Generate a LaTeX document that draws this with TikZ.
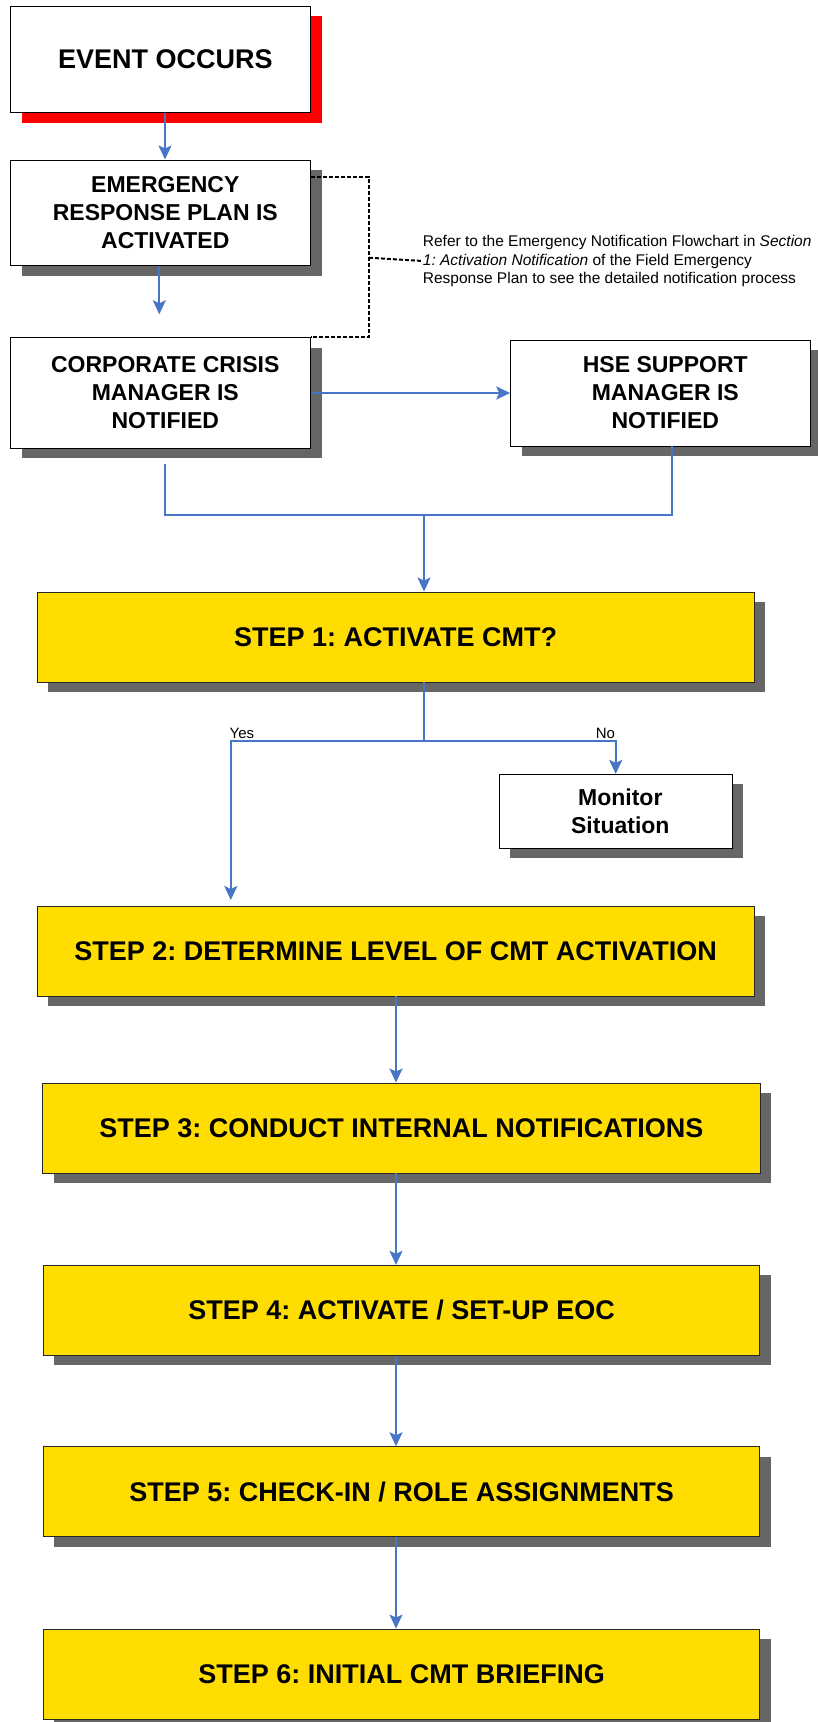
\documentclass[tikz,border=0pt]{standalone}
\usepackage{fontspec}
\setmainfont{Liberation Sans}
\usetikzlibrary{shadows,arrows.meta}
\definecolor{stepyellow}{RGB}{255,221,0}
\definecolor{shadegray}{RGB}{102,102,102}
\definecolor{flowblue}{RGB}{71,118,198}
% small lead-in that sets the text of the white boxes a little right of centre
\newcommand{\lead}{\hspace*{9.2pt}}
\frenchspacing

\begin{document}
\begin{tikzpicture}[x=1pt,y=-1pt,
  wbox/.style={draw=black, line width=0.9pt, fill=white, inner sep=0pt, align=center,
    font=\fontsize{23}{28}\selectfont\bfseries,
    drop shadow={shadow xshift=11pt, shadow yshift=-10pt, fill=#1, opacity=1}},
  wbox/.default=shadegray,
  ybox/.style={draw=black!85, line width=0.9pt, fill=stepyellow, inner sep=0pt,
    minimum width=716.5pt, minimum height=90pt,
    font=\fontsize{27}{32}\selectfont\bfseries,
    drop shadow={shadow xshift=11pt, shadow yshift=-10pt, fill=shadegray, opacity=1}},
  flowline/.style={draw=flowblue, line width=2pt},
  flow/.style={flowline, -{Stealth[length=14pt, width=13pt, inset=3pt]}},
  notedash/.style={draw=black, line width=2pt, dash pattern=on 4pt off 2pt},
  branchlbl/.style={font=\fontsize{15}{18}\selectfont, inner sep=0pt}]

\useasboundingbox (0,0) rectangle (817,1722);

% --- notification boxes ---
\node[wbox=red, minimum width=300pt, minimum height=106.7pt,
      font=\fontsize{27}{32}\selectfont\bfseries] (event) at (160.7,59.3) {\lead EVENT OCCURS};
\node[wbox, minimum width=300pt, minimum height=105.7pt] (erp) at (160.7,212.8)
  {\lead EMERGENCY\\\lead RESPONSE PLAN IS\\\lead ACTIVATED};
\node[wbox, minimum width=300pt, minimum height=110.6pt] (ccm) at (160.7,393)
  {\lead CORPORATE CRISIS\\\lead MANAGER IS\\\lead NOTIFIED};
\node[wbox, minimum width=300pt, minimum height=106pt] (hse) at (660.7,393)
  {\lead HSE SUPPORT\\\lead MANAGER IS\\\lead NOTIFIED};

% --- note on the notification flowchart ---
\node[anchor=west, align=left, inner sep=0pt, font=\fontsize{15.5}{18.7}\selectfont] (note)
  at (422.7,261)
  {Refer to the Emergency Notification Flowchart in \textit{Section}\\
   \textit{1: Activation Notification} of the Field Emergency\\
   Response Plan to see the detailed notification process};

% --- CMT steps ---
\node[ybox] (step1) at (395.7,637) {STEP 1: ACTIVATE CMT?};
\node[wbox, minimum width=233pt, minimum height=74pt] (monitor) at (615.7,811.3)
  {\lead Monitor\\\lead Situation};
\node[ybox] (step2) at (395.7,951) {STEP 2: DETERMINE LEVEL OF CMT ACTIVATION};
\node[ybox, minimum width=717.3pt] (step3) at (401.3,1128) {STEP 3: CONDUCT INTERNAL NOTIFICATIONS};
\node[ybox] (step4) at (401.6,1310.3) {STEP 4: ACTIVATE / SET-UP EOC};
\node[ybox] (step5) at (401.6,1491.7) {STEP 5: CHECK-IN / ROLE ASSIGNMENTS};
\node[ybox] (step6) at (401.6,1674) {STEP 6: INITIAL CMT BRIEFING};

% --- helper points ---
\coordinate (erpout) at (159.3,314.3);
\coordinate (dj) at (369,257.7);
\coordinate (ccmout) at (164.6,464);
\coordinate (merge) at (424,514.7);
\coordinate (fork) at (423.7,741);
\coordinate (yesend) at (230.8,900);
\coordinate (col) at (396,0);

% --- connectors ---
\draw[flow] ([xshift=4.3pt]event.south) -- ([xshift=4.3pt]erp.north);
\draw[flow] (erpout |- erp.south) -- (erpout);
\draw[flow] (ccm.east) -- (hse.west);
\draw[flowline] (ccmout) |- (merge) -| ([xshift=11pt]hse.south);
\draw[flow] (merge) -- (merge |- step1.north);

\draw[notedash] ([yshift=-17.3pt]erp.north east) -| (dj) |- (ccm.north east);
\draw[notedash] (dj) -- (note.west);

\draw[flowline] (fork |- step1.south) -- (fork);
\draw[flow] (fork) -| (yesend);
\draw[flow] (fork) -| (monitor.north);
\node[branchlbl, anchor=base west] (yeslbl) at (229.5,738.3) {Yes};
\node[branchlbl, anchor=base west] (nolbl) at (595.6,738.3) {No};

\draw[flow] (col |- step2.south) -- (col |- step3.north);
\draw[flow] (col |- step3.south) -- (col |- step4.north);
\draw[flow] (col |- step4.south) -- (col |- step5.north);
\draw[flow] (col |- step5.south) -- (col |- step6.north);
\end{tikzpicture}
\end{document}
